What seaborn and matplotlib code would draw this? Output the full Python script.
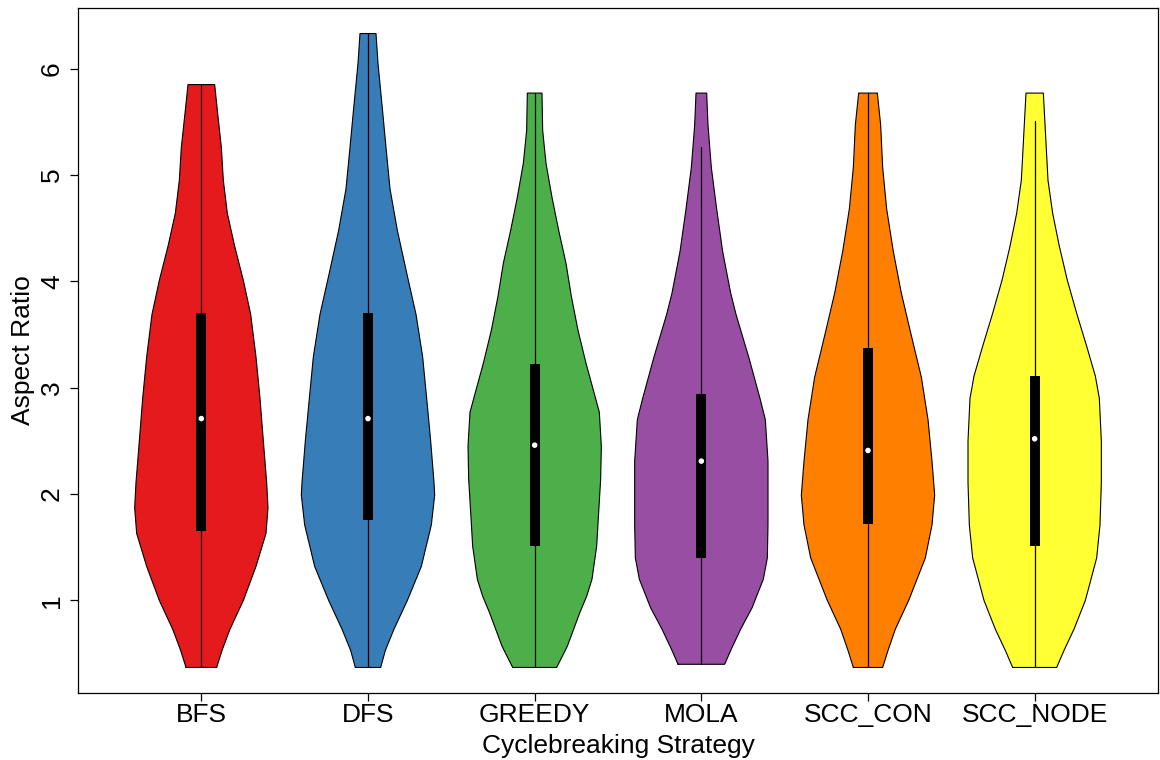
import matplotlib
matplotlib.use("Agg")
import matplotlib.pyplot as plt
from matplotlib.patches import Rectangle
import numpy as np
import seaborn as sns

# Strategies on the x axis
STRATEGIES = ["BFS", "DFS", "GREEDY", "MOLA", "SCC_CON", "SCC_NODE"]

# Box statistics per strategy (aspect ratio)
MEDIANS = [2.71, 2.71, 2.46, 2.31, 2.41, 2.52]
Q1 = [1.65, 1.76, 1.51, 1.40, 1.72, 1.51]
Q3 = [3.70, 3.70, 3.22, 2.94, 3.37, 3.11]
WHISK_LO = [0.37, 0.37, 0.37, 0.40, 0.37, 0.37]
WHISK_HI = [5.85, 6.33, 5.77, 5.26, 5.77, 5.51]

# Density profiles: evaluation heights and relative density (max = 1)
Y_BFS = [0.37, 0.53, 0.73, 1.00, 1.32, 1.63, 1.87, 2.11, 2.50, 2.90, 3.29, 3.69, 4.01, 4.33, 4.64, 4.95, 5.26, 5.58, 5.85]
D_BFS = [0.23, 0.31, 0.43, 0.63, 0.82, 0.97, 1.00, 0.98, 0.93, 0.88, 0.82, 0.74, 0.63, 0.50, 0.39, 0.33, 0.30, 0.245, 0.20]

Y_DFS = [0.37, 0.53, 0.73, 1.00, 1.32, 1.71, 1.99, 2.11, 2.50, 2.90, 3.29, 3.69, 4.08, 4.48, 4.87, 5.26, 5.66, 6.05, 6.33]
D_DFS = [0.19, 0.26, 0.39, 0.59, 0.80, 0.95, 1.00, 0.99, 0.94, 0.88, 0.82, 0.72, 0.58, 0.44, 0.33, 0.27, 0.21, 0.15, 0.12]

Y_GREEDY = [0.37, 0.57, 0.89, 1.04, 1.20, 1.51, 1.83, 2.14, 2.45, 2.77, 3.07, 3.23, 3.54, 3.86, 4.17, 4.48, 4.79, 5.11, 5.42, 5.77]
D_GREEDY = [0.33, 0.49, 0.68, 0.78, 0.86, 0.93, 0.96, 0.99, 1.00, 0.97, 0.84, 0.77, 0.65, 0.55, 0.47, 0.36, 0.26, 0.17, 0.12, 0.11]

Y_MOLA = [0.40, 0.53, 0.73, 0.93, 1.20, 1.40, 1.71, 1.91, 2.31, 2.70, 2.90, 3.29, 3.69, 3.89, 4.28, 4.68, 5.07, 5.47, 5.77]
D_MOLA = [0.35, 0.44, 0.59, 0.76, 0.93, 0.99, 1.00, 1.00, 1.00, 0.96, 0.88, 0.71, 0.52, 0.44, 0.32, 0.23, 0.15, 0.10, 0.08]

Y_SCC_CON = [0.37, 0.53, 0.73, 1.00, 1.40, 1.71, 1.99, 2.31, 2.70, 3.10, 3.49, 3.89, 4.28, 4.68, 5.07, 5.47, 5.77]
D_SCC_CON = [0.22, 0.30, 0.41, 0.61, 0.86, 0.96, 1.00, 0.96, 0.90, 0.80, 0.65, 0.50, 0.38, 0.28, 0.22, 0.19, 0.14]

Y_SCC_NODE = [0.37, 0.53, 0.73, 1.00, 1.40, 1.71, 2.11, 2.50, 2.90, 3.11, 3.39, 3.70, 4.01, 4.33, 4.64, 4.95, 5.42, 5.77]
D_SCC_NODE = [0.33, 0.44, 0.59, 0.76, 0.93, 0.98, 1.00, 1.00, 0.97, 0.91, 0.78, 0.63, 0.49, 0.37, 0.27, 0.20, 0.16, 0.13]

PROFILES = [(Y_BFS, D_BFS), (Y_DFS, D_DFS), (Y_GREEDY, D_GREEDY),
            (Y_MOLA, D_MOLA), (Y_SCC_CON, D_SCC_CON), (Y_SCC_NODE, D_SCC_NODE)]

Y_TICKS = [1, 2, 3, 4, 5, 6]

sns.set_theme(style="white")
plt.rcParams["font.family"] = ["Liberation Sans", "DejaVu Sans"]

colors = sns.color_palette("Set1", len(STRATEGIES))

fig = plt.figure(figsize=(11.6, 7.6), dpi=100)
ax = fig.add_axes([78 / 1160, 1 - 693 / 760, 1080 / 1160, 685 / 760])

half_max = 0.40   # half-width of the widest part of every violin
box_w = 0.06

positions = np.arange(len(STRATEGIES))
for i, (ys, ds) in enumerate(PROFILES):
    ys = np.asarray(ys)
    hw = np.asarray(ds) * half_max
    ax.fill_betweenx(ys, i - hw, i + hw, facecolor=colors[i], edgecolor="none", zorder=1)
    xs = np.concatenate([i - hw, (i + hw)[::-1], [i - hw[0]]])
    yy = np.concatenate([ys, ys[::-1], [ys[0]]])
    ax.plot(xs, yy, color="black", lw=0.8, zorder=2)
    # whisker line
    ax.plot([i, i], [WHISK_LO[i], WHISK_HI[i]], color="black", lw=0.9, zorder=3)
    # interquartile box
    ax.add_patch(Rectangle((i - box_w / 2, Q1[i]), box_w, Q3[i] - Q1[i],
                           facecolor="black", edgecolor="none", zorder=4))

sns.scatterplot(x=positions, y=MEDIANS, color="white", s=16, edgecolor="none",
                zorder=5, ax=ax, legend=False)

ax.set_xlim(-0.74, 5.74)
ax.set_ylim(0.13, 6.57)
ax.set_xticks(positions)
ax.set_xticklabels(STRATEGIES)
ax.set_yticks(Y_TICKS)
ax.set_yticklabels([str(t) for t in Y_TICKS], rotation=90, va="center")

ax.tick_params(axis="both", direction="out", length=6, width=0.9, color="black",
               labelsize=19, labelcolor="black", bottom=True, left=True)
ax.tick_params(axis="x", pad=1)
ax.tick_params(axis="y", pad=4)

for sp in ax.spines.values():
    sp.set_visible(True)
    sp.set_color("black")
    sp.set_linewidth(0.9)

ax.set_xlabel("Cyclebreaking Strategy", fontsize=19, color="black")
ax.set_ylabel("Aspect Ratio", fontsize=19, color="black")
ax.xaxis.set_label_coords(0.5, -(734 - 693) / 685)
ax.yaxis.set_label_coords(-(78 - 35) / 1080, 0.5)

fig.savefig("out.png", dpi=100, facecolor="white")
